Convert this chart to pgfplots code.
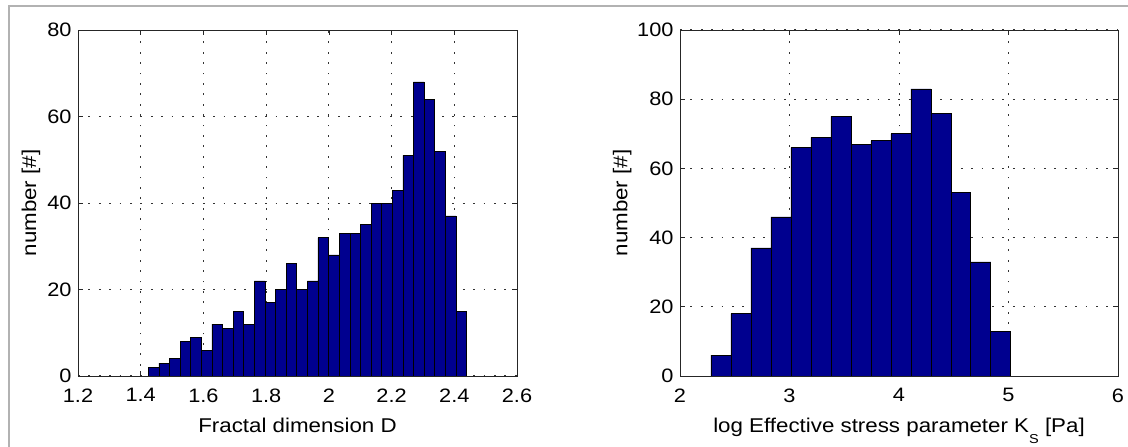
\documentclass[border=0pt]{standalone}
\usepackage{pgfplots}
\pgfplotsset{compat=1.18}
\usepackage{fontspec}
\setmainfont{Liberation Sans}[FakeStretch=1.12]
\definecolor{barblue}{RGB}{0,0,143}

\pgfplotsset{histo/.style={
  scale only axis, height=346bp,
  axis line style={black!85, line width=0.8bp},
  tick align=inside, major tick length=5bp,
  tick style={black!85, line width=0.6bp},
  grid=major,
  major grid style={black!80, line width=1bp, dash pattern=on 1.8bp off 8.6bp},
  ymin=0,
  /pgf/number format/assume math mode=true,
  ticklabel style={font=\fontsize{19.5}{22}\selectfont},
  label style={font=\fontsize{20}{24}\selectfont},
  xticklabel style={yshift=-9bp},
  yticklabel style={xshift=-3bp},
  xlabel style={at={(axis description cs:0.5,-0.162)}, anchor=base},
}}

\begin{document}
\begin{tikzpicture}
\useasboundingbox (0,0) rectangle (1128bp,447bp);
\draw[gray!60, line width=1.6bp] (9bp,0) -- (9bp,441bp) -- (1128bp,441bp);

\begin{axis}[histo, at={(78bp,71bp)}, anchor=south west, width=439bp,
  xmin=1.2, xmax=2.6, ymax=80,
  xtick={1.2,1.4,...,2.6}, ytick={0,20,...,80},
  xlabel={Fractal dimension D}, ylabel={number [\#]},
  ylabel style={at={(axis description cs:-0.107,0.5)}, anchor=center}]
\addplot[ybar interval, fill=barblue, draw=black, line width=0.6bp] coordinates {
(1.4240,2)(1.4578,3)(1.4917,4)(1.5255,8)(1.5593,9)(1.5932,6)(1.6270,12)(1.6608,11)
(1.6946,15)(1.7285,12)(1.7623,22)(1.7961,17)(1.8300,20)(1.8638,26)(1.8976,20)(1.9315,22)
(1.9653,32)(1.9991,28)(2.0329,33)(2.0668,33)(2.1006,35)(2.1344,40)(2.1683,40)(2.2021,43)
(2.2359,51)(2.2698,68)(2.3036,64)(2.3374,52)(2.3712,37)(2.4051,15)(2.4389,15)};
\end{axis}

\begin{axis}[histo, at={(680bp,71bp)}, anchor=south west, width=438bp,
  xmin=2, xmax=6, ymax=100,
  xtick={2,3,4,5,6}, ytick={0,20,...,100},
  xlabel={log Effective stress parameter K\raisebox{-11bp}{\fontsize{13}{13}\selectfont S} [Pa]},
  ylabel={number [\#]},
  ylabel style={at={(axis description cs:-0.132,0.5)}, anchor=center}]
\addplot[ybar interval, fill=barblue, draw=black, line width=0.6bp] coordinates {
(2.2830,6)(2.4655,18)(2.6480,37)(2.8305,46)(3.0130,66)(3.1955,69)(3.3780,75)(3.5605,67)
(3.7430,68)(3.9255,70)(4.1080,83)(4.2905,76)(4.4730,53)(4.6555,33)(4.8380,13)(5.0205,13)};
\end{axis}
\end{tikzpicture}
\end{document}
